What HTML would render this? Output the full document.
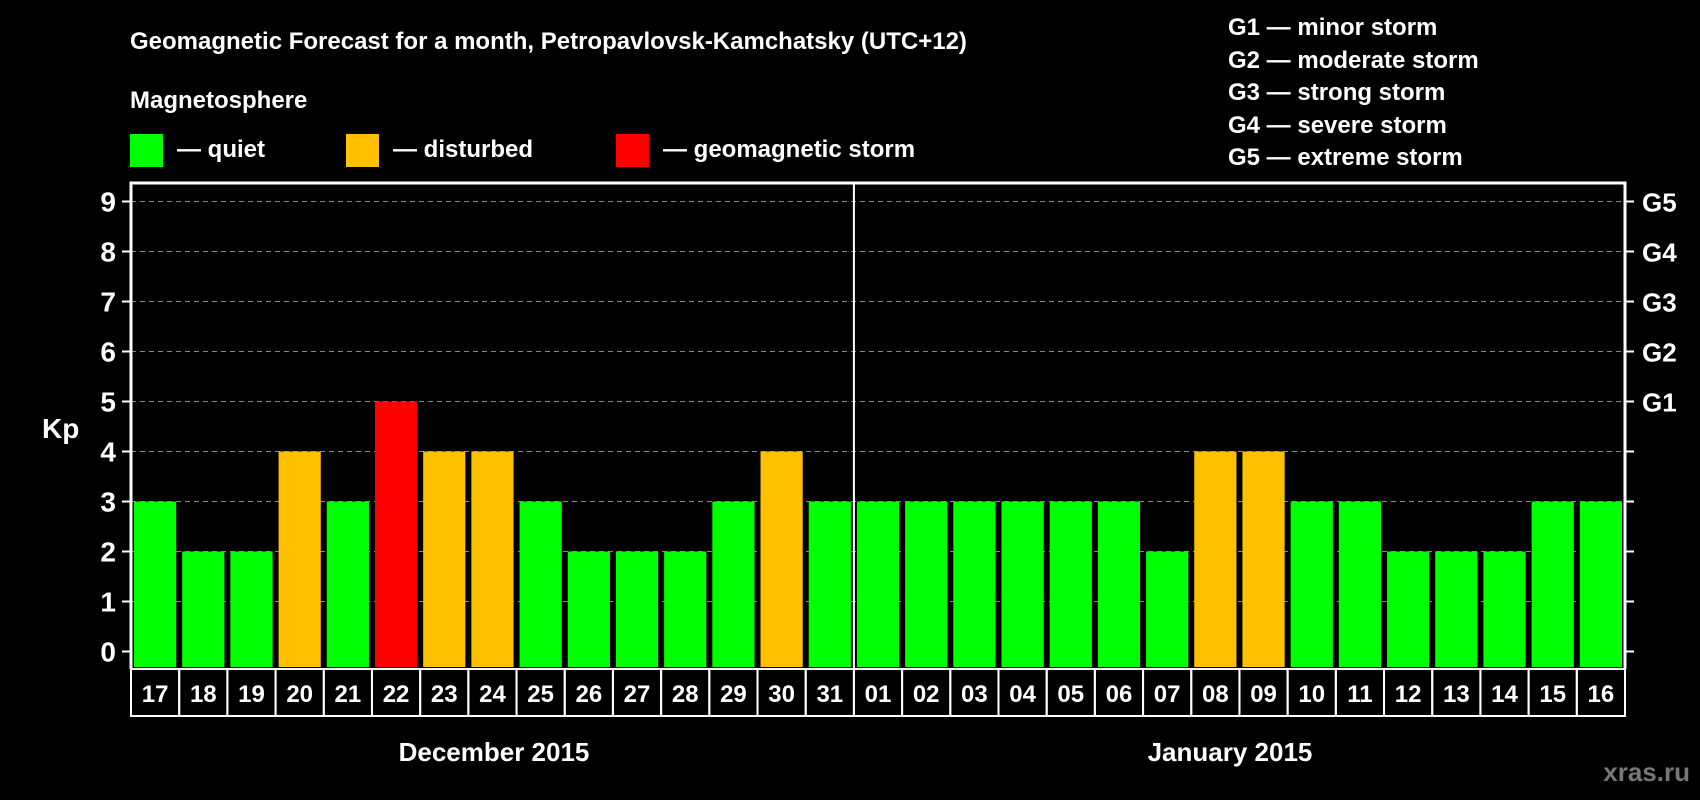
<!DOCTYPE html>
<html><head><meta charset="utf-8"><style>
html,body{margin:0;padding:0;background:#000;}
svg{display:block;font-family:"Liberation Sans",Arial,sans-serif;font-weight:bold;}
</style></head><body>
<svg width="1700" height="800" viewBox="0 0 1700 800" id="chart">
<rect width="1700" height="800" fill="#000"/>
<text x="130" y="49" fill="#fff" font-size="24">Geomagnetic Forecast for a month, Petropavlovsk-Kamchatsky (UTC+12)</text>
<text x="130" y="108" fill="#fff" font-size="24">Magnetosphere</text>
<g><rect x="130" y="134" width="33" height="33" fill="#00ff00"/><text x="177" y="157" fill="#fff" font-size="24">— quiet</text></g>
<g><rect x="346" y="134" width="33" height="33" fill="#ffc000"/><text x="393" y="157" fill="#fff" font-size="24">— disturbed</text></g>
<g><rect x="616" y="134" width="33" height="33" fill="#ff0000"/><text x="663" y="157" fill="#fff" font-size="24">— geomagnetic storm</text></g>
<g fill="#fff" font-size="24">
<text x="1228" y="35">G1 — minor storm</text>
<text x="1228" y="68">G2 — moderate storm</text>
<text x="1228" y="100">G3 — strong storm</text>
<text x="1228" y="133">G4 — severe storm</text>
<text x="1228" y="165">G5 — extreme storm</text>
</g>
<text x="42" y="438" fill="#fff" font-size="28">Kp</text>
<text x="1230" y="761" fill="#fff" font-size="26" text-anchor="middle">January 2015</text>
<text x="494" y="761" fill="#fff" font-size="26" text-anchor="middle">December 2015</text>
<text x="1690" y="781" fill="#777" font-size="26" text-anchor="end">xras.ru</text>
<g id="plot"></g>
</svg>
<script>
const days=["17","18","19","20","21","22","23","24","25","26","27","28","29","30","31","01","02","03","04","05","06","07","08","09","10","11","12","13","14","15","16"];
const kp=[3,2,2,4,3,5,4,4,3,2,2,2,3,4,3,3,3,3,3,3,3,2,4,4,3,3,2,2,2,3,3];
const yTicks=[0,1,2,3,4,5,6,7,8,9];
const gLabels=["G1","G2","G3","G4","G5"];
const NS="http://www.w3.org/2000/svg";
const L=131,R=1625,T=183,B=669,Y0=651.5,unit=50;
const cw=(R-L)/days.length;
const y=v=>Y0-v*unit;
const x=i=>L+i*cw;
const g=document.getElementById('plot');
function mk(t,a){const e=document.createElementNS(NS,t);for(const k in a)e.setAttribute(k,a[k]);g.appendChild(e);return e;}
yTicks.forEach(v=>{
  if(v>0){const l=mk('line',{x1:L,x2:R,y1:y(v),y2:y(v),stroke:'#888','stroke-dasharray':'5,4','stroke-width':1});
  
  }
  const t=mk('line',{x1:L-9,x2:L,y1:y(v),y2:y(v),stroke:'#fff','stroke-width':2});
  
  
  const rt=mk('line',{x1:R,x2:R+9,y1:y(v),y2:y(v),stroke:'#fff','stroke-width':2});
  
  
  const tx=mk('text',{x:L-15,y:y(v)+10,fill:'#fff','font-size':28,'text-anchor':'end'});
  tx.textContent=v;
  
  
});
gLabels.forEach((s,i)=>{
  const tx=mk('text',{x:R+17,y:y(5+i)+10,fill:'#fff','font-size':26});
  tx.textContent=s;
  
  
});
kp.forEach((v,i)=>{
  const c=v>=5?'#ff0000':v>=4?'#ffc000':'#00ff00';
  const b=mk('rect',{x:x(i)+3,y:y(v),width:cw-6,height:B-y(v)-2,fill:c});
  
  
  const cell=mk('rect',{x:x(i),y:B,width:cw,height:47,fill:'none',stroke:'#fff','stroke-width':2});
  
  
  const tx=mk('text',{x:x(i)+cw/2,y:B+33,fill:'#fff','font-size':24,'text-anchor':'middle'});
  tx.textContent=days[i];
  
  
});
const sep=mk('line',{x1:x(15),x2:x(15),y1:T,y2:B,stroke:'#fff','stroke-width':2});


const fr=mk('path',{d:`M${L},${B} L${L},${T} L${R},${T} L${R},${B}`,fill:'none',stroke:'#fff','stroke-width':3});


</script>
</body></html>
